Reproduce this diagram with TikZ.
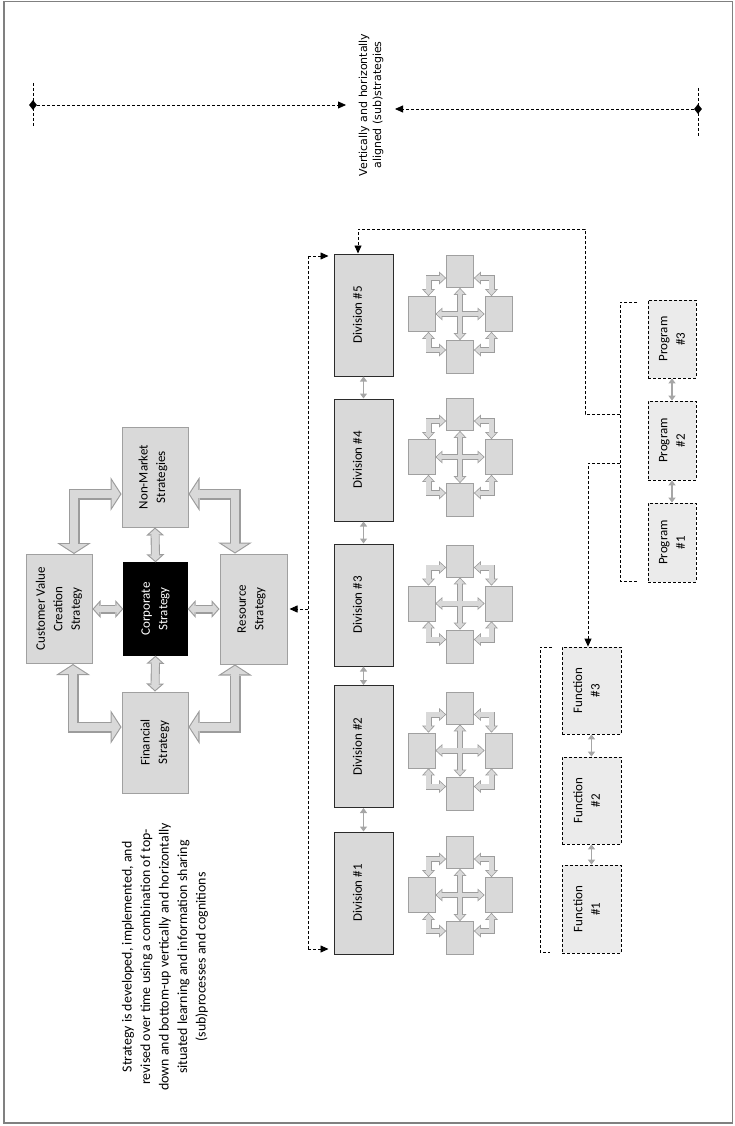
\documentclass[tikz,border=0pt]{standalone}
\usepackage{fontspec}
\setmainfont{Carlito}
\newfontfamily\labelfont{DejaVu Sans}
\usetikzlibrary{arrows.meta,shapes.geometric}

\definecolor{boxfill}{HTML}{D9D9D9}
\definecolor{boxedge}{HTML}{A0A0A0}
\definecolor{blkedge}{HTML}{9C9C9C}
\definecolor{subfill}{HTML}{EBEBEB}
\definecolor{linkgray}{HTML}{A6A6A6}
\definecolor{framegray}{HTML}{808080}
\definecolor{divedge}{HTML}{2B2B2B}

\tikzset{
  stratbox/.style={draw=boxedge, fill=boxfill, line width=1pt, inner sep=0pt},
  corpbox/.style={draw=black, fill=black, inner sep=0pt},
  divbox/.style={draw=divedge, fill=boxfill, line width=1pt, inner sep=0pt,
    minimum width=59pt, minimum height=122pt},
  unitbox/.style={draw=black, fill=subfill, dash pattern=on 3pt off 2pt,
    line width=0.8pt, inner sep=0pt},
  minibox/.style={draw=boxedge, fill=boxfill, line width=0.8pt, inner sep=0pt,
    minimum width=27pt},
  vtext/.style={rotate=90, align=center, inner sep=0pt,
    font=\fontsize{13}{17.5}\selectfont},
  dashlink/.style={draw=black, line width=0.8pt, dash pattern=on 3pt off 2pt},
  dasharrow/.style={dashlink, -{Triangle[length=8pt,width=7pt]}},
  peerlink/.style={linkgray, line width=1.6pt,
    {Triangle[length=5pt,width=7pt]}-{Triangle[length=5pt,width=7pt]}},
}

% hollow block arrows: a wide grey pass, then a narrower light pass on top
\newcommand\setarrowdims[4]{% shaft width, head width, head length, border
  \pgfmathsetmacro\bkWo{#1}%
  \pgfmathsetmacro\bkH{#2}%
  \pgfmathsetmacro\bkL{#3}%
  \pgfmathsetmacro\bkAng{atan(#2/(2*#3))}%
  \pgfmathsetmacro\bkD{#4/sin(\bkAng)}%
  \pgfmathsetmacro\bkLi{#3-#4-\bkD}%
  \pgfmathsetmacro\bkHi{\bkLi*#2/#3}%
  \pgfmathsetmacro\bkWi{#1-2*#4}%
  \pgfmathsetmacro\bkS{#3-#4-1.2}%
}
\newcommand\outerpass[1]{%
  \draw[blkedge, line width=\bkWo pt, line join=miter,
    {Triangle[length=\bkL pt,width=\bkH pt,line width=0pt]}-{Triangle[length=\bkL pt,width=\bkH pt,line width=0pt]}] #1;}
\newcommand\innerpass[1]{%
  \draw[boxfill, line width=\bkWi pt, line join=miter,
    shorten <=\bkD pt, shorten >=\bkD pt,
    {Triangle[length=\bkLi pt,width=\bkHi pt,line width=0pt]}-{Triangle[length=\bkLi pt,width=\bkHi pt,line width=0pt]}] #1;
  \draw[boxfill, line width=\bkWi pt, line join=miter,
    shorten <=\bkS pt, shorten >=\bkS pt] #1;}

\begin{document}
\begin{tikzpicture}[x=1pt,y=-1pt]
\useasboundingbox (0,0) rectangle (734,1126);
\draw[framegray, line width=1.5pt] (4,1.5) rectangle (732.5,1123);

% ---------- aligned (sub)strategies marker ----------
\node[rotate=90, align=center, inner sep=0pt,
  font=\labelfont\fontsize{11}{14}\selectfont] (al) at (371,105)
  {Vertically and horizontally\\aligned (sub)strategies};
\node[diamond, fill=black, inner sep=0pt, minimum width=8pt, minimum height=10pt] (dl) at (33,105) {};
\node[diamond, fill=black, inner sep=0pt, minimum width=8pt, minimum height=10pt] (dr) at (698,109) {};
\coordinate (dl-a) at (33,83);  \coordinate (dl-b) at (33,127);
\coordinate (dr-a) at (698,88); \coordinate (dr-b) at (698,137);
\coordinate (al-l) at (346,105); \coordinate (al-r) at (395,109);
\draw[dashlink] (dl-a) -- (dl-b);
\draw[dashlink] (dr-a) -- (dr-b);
\draw[dasharrow] (dl) -- (al-l);
\draw[dasharrow] (dr) -- (al-r);

% ---------- corporate strategy cluster ----------
\node[stratbox, minimum width=66pt, minimum height=100pt] (nm) at (155,477) {};
\node[stratbox, minimum width=66pt, minimum height=109pt] (cv) at (59,609) {};
\node[corpbox,  minimum width=64pt, minimum height=93pt]  (cs) at (155.5,609) {};
\node[stratbox, minimum width=67pt, minimum height=110pt] (rs) at (253.5,609) {};
\node[stratbox, minimum width=66pt, minimum height=101pt] (fs) at (155,742.5) {};
\node[vtext] (nm-t) at ([xshift=-2pt]nm.center) {Non-Market\\Strategies};
\node[vtext] (cv-t) at (cv) {Customer Value\\Creation\\Strategy};
\node[vtext, text=white] (cs-t) at (cs) {Corporate\\Strategy};
\node[vtext] (rs-t) at ([xshift=-2pt]rs.center) {Resource\\Strategy};
\node[vtext] (fs-t) at (fs) {Financial\\Strategy};

\coordinate (e1) at (74,494);
\coordinate (e2) at (235,494);
\coordinate (e3) at (73,727);
\coordinate (e4) at (235,727);

\setarrowdims{11}{34}{11}{1.1}
\outerpass{(cv.north -| e1) -- (e1) -- (e1 -| nm.west)}
\outerpass{(nm.east |- e2) -- (e2) -- (e2 |- rs.north)}
\outerpass{(cv.south -| e3) -- (e3) -- (e3 -| fs.west)}
\outerpass{(fs.east |- e4) -- (e4) -- (e4 |- rs.south)}
\innerpass{(cv.north -| e1) -- (e1) -- (e1 -| nm.west)}
\innerpass{(nm.east |- e2) -- (e2) -- (e2 |- rs.north)}
\innerpass{(cv.south -| e3) -- (e3) -- (e3 -| fs.west)}
\innerpass{(fs.east |- e4) -- (e4) -- (e4 |- rs.south)}

\setarrowdims{9}{18}{8}{1.1}
\outerpass{(cv.east) -- (cs.west)}
\outerpass{(cs.east) -- (rs.west)}
\outerpass{(nm.south) -- (cs.north)}
\outerpass{(cs.south) -- (fs.north)}
\innerpass{(cv.east) -- (cs.west)}
\innerpass{(cs.east) -- (rs.west)}
\innerpass{(nm.south) -- (cs.north)}
\innerpass{(cs.south) -- (fs.north)}

% ---------- divisions ----------
\foreach \i/\y in {1/893,2/746.5,3/605,4/460,5/315}{
  \node[divbox] (d\i) at (363.5,\y) {};
  \node[vtext] (d\i-t) at ([xshift=-6pt]d\i.center) {Division \#\i};
}
\draw[peerlink] (d5.south) -- (d4.north);
\draw[peerlink] (d4.south) -- (d3.north);
\draw[peerlink] (d3.south) -- (d2.north);
\draw[peerlink] (d2.south) -- (d1.north);

% ---------- unit clusters beside each division ----------
\setarrowdims{6}{13}{7}{0.8}
\foreach \i/\cy in {1/895,2/750.5,3/603.5,4/457,5/314}{
  \node[minibox, minimum height=32pt] (m\i-t) at (460,\cy-42.5) {};
  \node[minibox, minimum height=33pt] (m\i-b) at (460,\cy+43) {};
  \node[minibox, minimum height=35pt] (m\i-l) at (421.5,\cy) {};
  \node[minibox, minimum height=35pt] (m\i-r) at (498.5,\cy) {};
  \coordinate (m\i-tl) at (428.5,\cy-36);
  \coordinate (m\i-tr) at (491.5,\cy-36);
  \coordinate (m\i-bl) at (428.5,\cy+36);
  \coordinate (m\i-br) at (491.5,\cy+36);
  \outerpass{(m\i-l.east) -- (m\i-r.west)}
  \outerpass{(m\i-t.south) -- (m\i-b.north)}
  \outerpass{(m\i-t.west |- m\i-tl) -- (m\i-tl) -- (m\i-tl |- m\i-l.north)}
  \outerpass{(m\i-t.east |- m\i-tr) -- (m\i-tr) -- (m\i-tr |- m\i-r.north)}
  \outerpass{(m\i-l.south -| m\i-bl) -- (m\i-bl) -- (m\i-bl -| m\i-b.west)}
  \outerpass{(m\i-r.south -| m\i-br) -- (m\i-br) -- (m\i-br -| m\i-b.east)}
  \innerpass{(m\i-l.east) -- (m\i-r.west)}
  \innerpass{(m\i-t.south) -- (m\i-b.north)}
  \innerpass{(m\i-t.west |- m\i-tl) -- (m\i-tl) -- (m\i-tl |- m\i-l.north)}
  \innerpass{(m\i-t.east |- m\i-tr) -- (m\i-tr) -- (m\i-tr |- m\i-r.north)}
  \innerpass{(m\i-l.south -| m\i-bl) -- (m\i-bl) -- (m\i-bl -| m\i-b.west)}
  \innerpass{(m\i-r.south -| m\i-br) -- (m\i-br) -- (m\i-br -| m\i-b.east)}
}

% ---------- programs and functions ----------
\node[unitbox, minimum width=48pt, minimum height=78pt] (p3) at (672,339) {};
\node[unitbox, minimum width=48pt, minimum height=79pt] (p2) at (672,440.5) {};
\node[unitbox, minimum width=48pt, minimum height=79pt] (p1) at (672,542.5) {};
\foreach \i in {1,2,3}{
  \node[vtext] (p\i-t) at (p\i) {Program\\\#\i};
}
\draw[peerlink] (p3.south) -- (p2.north);
\draw[peerlink] (p2.south) -- (p1.north);

\node[unitbox, minimum width=59pt, minimum height=87pt] (f3) at (591.5,690.5) {};
\node[unitbox, minimum width=59pt, minimum height=87pt] (f2) at (591.5,800.5) {};
\node[unitbox, minimum width=59pt, minimum height=88pt] (f1) at (591.5,909) {};
\foreach \i in {1,2,3}{
  \node[vtext] (f\i-t) at ([xshift=-5pt]f\i.center) {Function\\\#\i};
}
\draw[peerlink] (f3.south) -- (f2.north);
\draw[peerlink] (f2.south) -- (f1.north);

% ---------- dashed linkage ----------
% bus on the left of the divisions
\coordinate (bt) at (308,256);
\coordinate (bb) at (308,949);
\coordinate (bm) at (308,609);
\draw[dashlink] (bt) -- (bb);
\draw[dasharrow, shorten >=5pt] (bt) -- (bt -| d5.west);
\draw[dasharrow, shorten >=5pt] (bb) -- (bb -| d1.west);
\draw[dasharrow, shorten >=2pt] (bm) -- (bm -| rs.east);

% program bracket
\coordinate (pbt) at (620,302);  \coordinate (pbt-e) at (637,302);
\coordinate (pbb) at (620,581);  \coordinate (pbb-e) at (637,581);
\draw[dashlink] (pbt-e) -- (pbt) -- (pbb) -- (pbb-e);

% function bracket
\coordinate (fbt) at (540,647);  \coordinate (fbt-e) at (552,647);
\coordinate (fbb) at (540,952);  \coordinate (fbb-e) at (550,952);
\draw[dashlink] (fbt-e) -- (fbt) -- (fbb) -- (fbb-e);

% program bracket up to division #5
\coordinate (pj)  at (620,414);
\coordinate (tj1) at (585,414);
\coordinate (tj2) at (585,229);
\coordinate (tk)  at (358,229);
\draw[dasharrow] (pj) -- (tj1) -- (tj2) -- (tk) -- (tk |- d5.north);

% program bracket down to the functions
\coordinate (fj) at (620,463);
\coordinate (fk) at (588,463);
\draw[dasharrow] (fj) -- (fk) -- (fk |- f3.north);

% ---------- note ----------
\node[rotate=90, align=center, inner sep=0pt,
  font=\fontsize{13.9}{18.5}\selectfont] (note) at (165,957)
  {Strategy is developed, implemented, and\\
   revised over time using a combination of top-\\
   down and bottom-up vertically and horizontally\\
   situated learning and information sharing\\
   (sub)processes and cognitions};
\end{tikzpicture}
\end{document}
